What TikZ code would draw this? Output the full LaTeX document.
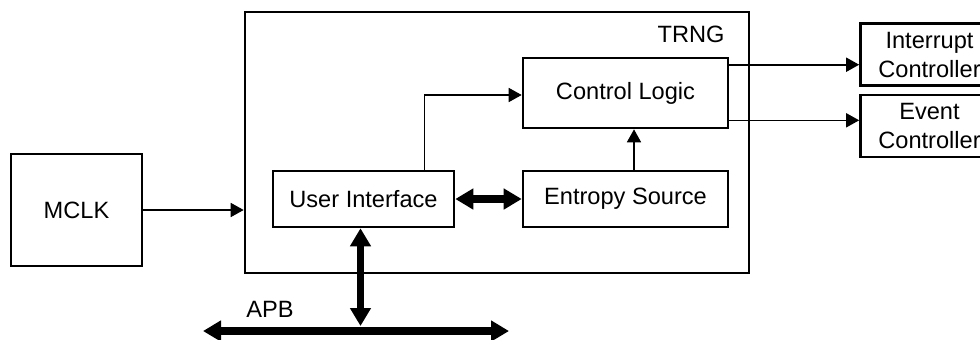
\documentclass[tikz,border=0pt]{standalone}
\usepackage{fontspec}
\setmainfont{Liberation Sans}
\usetikzlibrary{arrows.meta,positioning,calc}

\begin{document}
\begin{tikzpicture}[
    x=0.5pt, y=-0.5pt,
    font=\fontsize{11.8}{14.5}\selectfont,
    block/.style={rectangle, draw, line width=1.3pt, align=center, inner sep=0pt},
    arrow/.style={-{Triangle[length=6.5pt, width=7pt]}, line width=0.8pt},
    bus/.style={{Triangle[length=9pt, width=10pt]}-{Triangle[length=9pt, width=10pt]}, line width=3.6pt}
]
\useasboundingbox (0,0) rectangle (980,339);

% Clock source
\node[block, minimum width=65.5pt, minimum height=56pt] (mclk) at (76.5,210) {MCLK};

% TRNG frame
\node[block, minimum width=252pt, minimum height=130.5pt] (trng) at (497,142.5) {};
\node[anchor=base east, inner sep=0pt] (trnglbl) at (725,42) {TRNG};

% Inner blocks
\node[block, minimum width=90.5pt, minimum height=28pt] (ui) at (363.5,199) {User Interface};
\node[block, minimum width=102.5pt, minimum height=35pt] (ctrl) at (625.5,93) {Control Logic};
\node[block, minimum width=102.5pt, minimum height=28pt] (ent) at (625.5,199) {Entropy Source};

% Controllers
\node[block, minimum width=69pt, minimum height=31pt] (intc) at (929.5,54.5) {Interrupt\\Controller};
\node[block, minimum width=69pt, minimum height=31pt] (evtc) at (929.5,126) {Event\\Controller};

% APB bus
\coordinate (apbL) at (203,331);
\coordinate (apbR) at (509,331);
\node[inner sep=0pt] (apb) at (270,309) {APB};

% Arrows
\draw[arrow] (mclk.east) -- (mclk.east -| trng.west);
\draw[arrow] ([xshift=30.5pt]ui.north) |- ([yshift=-1pt]ctrl.west);
\draw[arrow] ([xshift=4.25pt]ent.north) -- ([xshift=4.25pt]ctrl.south);
\coordinate (ci) at ([yshift=-4pt]ctrl.north east);
\coordinate (ce) at ([yshift=4.5pt]ctrl.south east);
\draw[arrow] (ci) -- (ci -| intc.west);
\draw[arrow] (ce) -- (ce -| evtc.west);

% Buses
\draw[bus] (ui.east) -- (ent.west);
\draw[bus] (apbL) -- (apbR);
\draw[bus, shorten >=2.5pt] ([xshift=-1.5pt]ui.south) -- ([xshift=-1.5pt]ui.south |- apbL);

\end{tikzpicture}
\end{document}
